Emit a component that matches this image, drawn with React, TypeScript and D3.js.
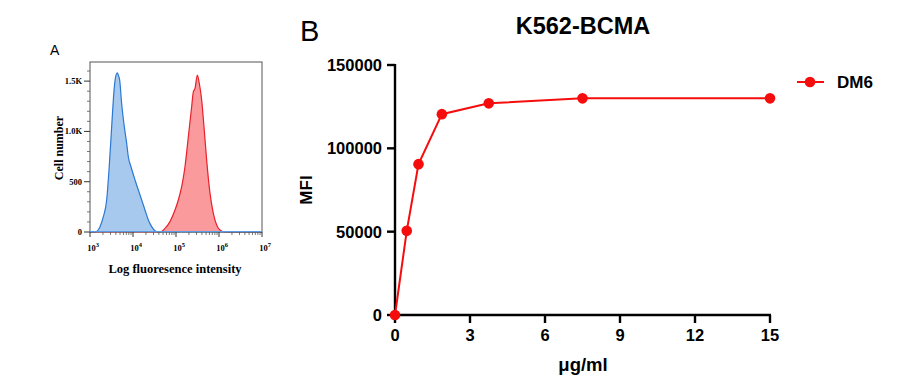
import * as d3 from "d3";

// Panel A: flow histograms (log10 fluorescence, cell count)
const isotypeLog = [3.0, 3.116, 3.233, 3.31, 3.388, 3.442, 3.504, 3.566, 3.605, 3.636, 3.659, 3.69, 3.736, 3.798, 3.853, 3.891, 3.953, 4.047, 4.124, 4.202, 4.279, 4.357, 4.434, 4.51, 4.59, 7.0];
const isotypeCount = [0, 0, 53, 152, 318, 616, 1046, 1443, 1560, 1583, 1560, 1510, 1278, 1046, 881, 748, 649, 517, 417, 318, 219, 119, 53, 13, 0, 0];
const bcmaLog = [3.0, 4.628, 4.744, 4.86, 4.977, 5.054, 5.132, 5.209, 5.287, 5.364, 5.403, 5.442, 5.496, 5.542, 5.597, 5.651, 5.713, 5.791, 5.868, 5.946, 6.023, 6.14, 7.0];
const bcmaCount = [0, 0, 36, 103, 219, 318, 450, 649, 947, 1245, 1394, 1427, 1560, 1477, 1311, 1046, 715, 384, 186, 70, 20, 0, 0];
const histYTicks = [0, 500, 1000, 1500];
const histYLabels = ["0", "500", "1.0K", "1.5K"];
const histDecades = [3, 4, 5, 6, 7];

// Panel B: titration curve
const concentrations = [0, 0.47, 0.94, 1.875, 3.75, 7.5, 15];
const mfi = [0, 50500, 90500, 120500, 127000, 130000, 130000];
const xTicks = [0, 3, 6, 9, 12, 15];
const yTicks = [0, 50000, 100000, 150000];

const SERIF = "'Liberation Serif', 'DejaVu Serif', serif";
const SANS = "'Liberation Sans', Arial, sans-serif";

const HistPanel = () => {
  const x = d3.scaleLinear().domain([3, 7]).range([90, 262]);
  const y = d3.scaleLinear().domain([0, 1690]).range([232, 62]);
  const area = d3
    .area<[number, number]>()
    .x((d) => x(d[0]))
    .y0(y(0))
    .y1((d) => y(d[1]))
    .curve(d3.curveMonotoneX);
  const line = d3
    .line<[number, number]>()
    .x((d) => x(d[0]))
    .y((d) => y(d[1]))
    .curve(d3.curveMonotoneX);
  const blue = isotypeLog.map((v, i) => [v, isotypeCount[i]] as [number, number]);
  const red = bcmaLog.map((v, i) => [v, bcmaCount[i]] as [number, number]);

  const minorX: number[] = [];
  histDecades.slice(0, -1).forEach((d) => {
    for (let k = 2; k <= 9; k++) minorX.push(d + Math.log10(k));
  });
  const minorY = d3.range(100, 1700, 100).filter((v) => v % 500 !== 0);

  return (
    <g>
      <text x={50} y={55} fontFamily={SANS} fontSize={14}>A</text>
      <path d={area(red) ?? ""} fill="#fb9a9c" />
      <path d={area(blue) ?? ""} fill="#9ec3ec" fillOpacity={0.9} />
      <path d={line(red) ?? ""} fill="none" stroke="#e8202a" strokeWidth={1.2} />
      <path d={line(blue) ?? ""} fill="none" stroke="#2a78d4" strokeWidth={1.2} />
      <rect x={90} y={62} width={172} height={170} fill="none" stroke="#555" strokeWidth={1} />
      <line x1={90} x2={262} y1={231.5} y2={231.5} stroke="#5a9be6" strokeWidth={1.2} />
      {histYTicks.map((t, i) => (
        <g key={t}>
          <line x1={84} x2={90} y1={y(t)} y2={y(t)} stroke="#333" />
          <text x={82} y={y(t)} dy="0.35em" textAnchor="end" fontFamily={SERIF} fontWeight="bold" fontSize={8.5}>
            {histYLabels[i]}
          </text>
        </g>
      ))}
      {minorY.map((t) => (
        <line key={t} x1={87} x2={90} y1={y(t)} y2={y(t)} stroke="#555" strokeWidth={0.8} />
      ))}
      {histDecades.map((d) => (
        <g key={d}>
          <line x1={x(d)} x2={x(d)} y1={232} y2={237} stroke="#333" />
          <text x={x(d) + 3} y={251} textAnchor="middle" fontFamily={SERIF} fontWeight="bold" fontSize={8.5}>
            10
            <tspan dy={-4} fontSize={6.5}>{d}</tspan>
          </text>
        </g>
      ))}
      {minorX.map((v, i) => (
        <line key={i} x1={x(v)} x2={x(v)} y1={232} y2={235} stroke="#555" strokeWidth={0.8} />
      ))}
      <text
        transform={`translate(63,148) rotate(-90)`}
        textAnchor="middle"
        fontFamily={SERIF}
        fontWeight="bold"
        fontSize={12}
      >
        Cell number
      </text>
      <text x={175} y={273} textAnchor="middle" fontFamily={SERIF} fontWeight="bold" fontSize={12.5}>
        Log fluoresence intensity
      </text>
    </g>
  );
};

const CurvePanel = () => {
  const x = d3.scaleLinear().domain([0, 15]).range([395, 770]);
  const y = d3.scaleLinear().domain([0, 150000]).range([315, 65]);
  const pts = concentrations.map((c, i) => [c, mfi[i]] as [number, number]);
  const line = d3
    .line<[number, number]>()
    .x((d) => x(d[0]))
    .y((d) => y(d[1]));
  const red = "#f50d0d";
  return (
    <g fontFamily={SANS} fontWeight="bold">
      <text x={300} y={41} fontSize={29} fontWeight="normal">B</text>
      <text x={583} y={34} textAnchor="middle" fontSize={23.5}>K562-BCMA</text>
      <line x1={395} x2={395} y1={64} y2={316} stroke="#000" strokeWidth={2.4} />
      <line x1={394} x2={771} y1={315} y2={315} stroke="#000" strokeWidth={2.4} />
      {yTicks.map((t) => (
        <g key={t}>
          <line x1={387} x2={395} y1={y(t)} y2={y(t)} stroke="#000" strokeWidth={2.4} />
          <text x={382} y={y(t)} dy="0.36em" textAnchor="end" fontSize={16.5}>{t}</text>
        </g>
      ))}
      {xTicks.map((t) => (
        <g key={t}>
          <line x1={x(t)} x2={x(t)} y1={315} y2={323} stroke="#000" strokeWidth={2.4} />
          <text x={x(t)} y={341} textAnchor="middle" fontSize={16.5}>{t}</text>
        </g>
      ))}
      <text transform="translate(312,190) rotate(-90)" textAnchor="middle" fontSize={17}>MFI</text>
      <text x={583} y={371} textAnchor="middle" fontSize={18.5}>μg/ml</text>
      <path d={line(pts) ?? ""} fill="none" stroke={red} strokeWidth={2} />
      {pts.map((p, i) => (
        <circle key={i} cx={x(p[0])} cy={y(p[1])} r={5.3} fill={red} />
      ))}
      <line x1={797} x2={824} y1={82} y2={82} stroke={red} strokeWidth={2} />
      <circle cx={810} cy={82} r={5.3} fill={red} />
      <text x={837} y={82} dy="0.36em" fontSize={17}>DM6</text>
    </g>
  );
};

export default function App() {
  return (
    <div style={{ position: "absolute", left: 0, top: 0 }}>
      <svg width={900} height={388} style={{ display: "block", background: "#fff" }}>
        <HistPanel />
        <CurvePanel />
      </svg>
    </div>
  );
}
